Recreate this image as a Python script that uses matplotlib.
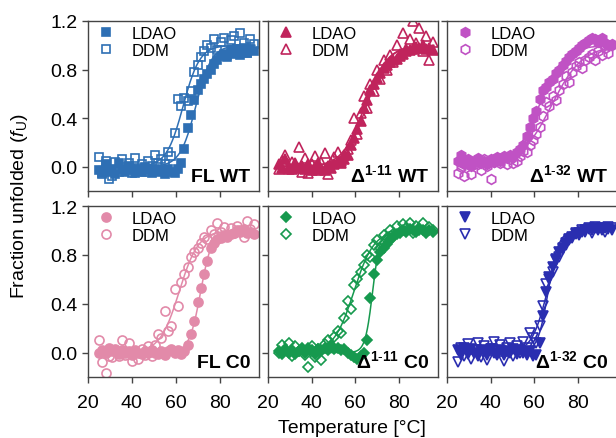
import numpy as np
import matplotlib
matplotlib.use("Agg")
import matplotlib.pyplot as plt

plt.rcParams['font.family'] = ['Liberation Sans', 'DejaVu Sans']
plt.rcParams['mathtext.fontset'] = 'custom'
plt.rcParams['mathtext.rm'] = 'Liberation Sans'
plt.rcParams['mathtext.it'] = 'Liberation Sans:italic'
plt.rcParams['mathtext.bf'] = 'Liberation Sans:bold'

# temperatures of the scan (°C)
temps = [25, 26.5, 28, 29.5, 31, 32.5, 34, 35.5, 37, 38.5, 40, 41.5, 43, 44.5, 46, 47.5,
         49, 50.5, 52, 53.5, 55, 56.5, 58, 59.5, 61, 62.5, 64, 65.5, 67, 68.5, 70, 71.5,
         73, 74.5, 76, 77.5, 79, 80.5, 82, 83.5, 85, 86.5, 88, 89.5, 91, 92.5, 94, 95.5]

# fraction unfolded, LDAO / DDM for each construct
fl_wt_ldao = [-0.03, -0.05, 0.02, -0.04, -0.02, -0.06, 0.03, -0.03,
              -0.04, 0.01, -0.03, -0.05, -0.02, -0.04, 0.00, -0.03,
              -0.05, -0.02, -0.04, -0.03, -0.06, -0.02, -0.04, -0.05,
              -0.02, 0.03, 0.15, 0.32, 0.43, 0.55, 0.63, 0.68,
              0.72, 0.76, 0.80, 0.85, 0.88, 0.91, 0.93, 0.90,
              0.96, 0.93, 0.97, 0.92, 0.98, 0.94, 0.97, 0.95]
fl_wt_ddm = [0.08, -0.06, 0.05, -0.10, -0.08, 0.04, -0.04, 0.06,
             -0.02, 0.03, -0.05, 0.07, -0.01, 0.02, -0.04, 0.05,
             0.01, 0.10, 0.03, 0.06, 0.02, 0.12, 0.09, 0.28,
             0.56, 0.50, 0.57, 0.54, 0.62, 0.78, 0.84, 0.90,
             0.95, 1.00, 0.98, 1.05, 0.96, 1.03, 1.06, 0.92,
             1.04, 1.08, 0.97, 1.10, 1.02, 0.94, 1.05, 1.01]

d11_wt_ldao = [0.02, -0.01, 0.06, 0.00, -0.02, 0.03, -0.01, 0.01,
               -0.02, 0.02, -0.03, 0.00, 0.03, -0.02, -0.03, 0.01,
               -0.01, 0.02, 0.04, 0.03, 0.06, 0.10, 0.18, 0.24,
               0.31, 0.38, 0.48, 0.55, 0.63, 0.68, 0.73, 0.77,
               0.81, 0.84, 0.86, 0.88, 0.89, 0.91, 0.93, 0.95,
               0.96, 0.97, 0.99, 0.98, 1.00, 0.97, 0.98, 0.96]
d11_wt_ddm = [-0.02, 0.05, 0.10, -0.02, 0.04, 0.02, 0.16, -0.04,
              0.07, -0.05, 0.02, 0.09, -0.03, 0.04, 0.11, -0.06,
              0.03, 0.08, 0.12, 0.05, 0.10, 0.15, 0.22, 0.40,
              0.27, 0.44, 0.58, 0.48, 0.68, 0.62, 0.80, 0.72,
              0.88, 0.80, 0.92, 0.86, 1.00, 0.93, 1.10, 0.97,
              1.05, 1.20, 1.02, 1.14, 0.95, 1.08, 0.88, 1.03]

d32_wt_ldao = [0.05, 0.10, 0.02, 0.06, 0.01, 0.04, 0.07, 0.03,
               0.05, 0.02, 0.06, 0.04, 0.08, 0.05, 0.09, 0.07,
               0.10, 0.08, 0.12, 0.15, 0.18, 0.25, 0.33, 0.40,
               0.46, 0.56, 0.63, 0.66, 0.70, 0.72, 0.77, 0.80,
               0.84, 0.87, 0.90, 0.93, 0.95, 0.98, 1.00, 1.02,
               1.04, 1.06, 1.05, 1.03, 1.06, 1.02, 1.00, 1.01]
d32_wt_ddm = [-0.05, 0.00, -0.08, 0.04, -0.06, 0.05, 0.02, -0.03,
              0.06, 0.01, -0.10, 0.04, 0.07, 0.03, 0.08, 0.02,
              0.06, 0.03, 0.05, 0.09, 0.13, 0.12, 0.18, 0.22,
              0.27, 0.33, 0.42, 0.53, 0.50, 0.58, 0.55, 0.63,
              0.68, 0.75, 0.70, 0.78, 0.83, 0.86, 0.81, 0.88,
              0.90, 0.93, 0.88, 0.95, 0.92, 0.98, 0.94, 1.00]

fl_c0_ldao = [0.00, 0.02, 0.00, 0.04, 0.01, 0.03, -0.01, 0.02,
              0.00, 0.01, -0.02, 0.02, 0.00, -0.01, 0.01, 0.00,
              0.02, 0.00, -0.01, 0.01, -0.02, 0.01, 0.03, 0.00,
              0.02, -0.01, 0.01, 0.06, 0.15, 0.26, 0.41, 0.53,
              0.64, 0.75, 0.86, 0.90, 0.93, 0.94, 0.96, 0.95,
              0.97, 0.98, 1.00, 0.99, 1.01, 0.98, 0.99, 0.97]
fl_c0_ddm = [0.10, -0.08, -0.17, -0.03, -0.04, 0.02, -0.03, 0.10,
             -0.02, 0.08, -0.07, 0.01, -0.05, 0.03, -0.02, 0.05,
             -0.03, 0.06, 0.15, 0.12, 0.34, 0.18, 0.22, 0.52,
             0.38, 0.58, 0.64, 0.70, 0.78, 0.82, 0.86, 0.90,
             0.95, 0.93, 1.00, 0.97, 1.06, 0.99, 1.03, 0.96,
             1.02, 0.98, 1.04, 1.00, 0.95, 1.08, 1.01, 1.05]

d11_c0_ldao = [0.01, -0.01, 0.03, 0.00, 0.02, -0.01, 0.01, 0.03,
               0.00, 0.04, 0.02, -0.01, 0.03, 0.01, 0.04, 0.02,
               0.05, 0.03, 0.04, 0.02, 0.03, 0.00, -0.02, -0.04,
               -0.05, -0.03, 0.00, 0.10, 0.45, 0.64, 0.76, 0.82,
               0.86, 0.89, 0.92, 0.95, 0.97, 0.98, 1.00, 0.99,
               1.01, 1.00, 0.99, 1.02, 1.00, 0.98, 1.00, 0.99]
d11_c0_ddm = [0.00, 0.06, 0.02, 0.08, -0.03, 0.05, 0.01, 0.04,
              -0.02, -0.12, 0.05, -0.04, 0.03, -0.06, 0.07, 0.10,
              0.06, 0.13, 0.18, 0.16, 0.28, 0.42, 0.36, 0.55,
              0.60, 0.66, 0.72, 0.80, 0.78, 0.88, 0.92, 0.86,
              0.96, 0.92, 1.00, 0.97, 1.04, 0.99, 1.05, 1.02,
              1.06, 0.98, 1.04, 1.00, 1.06, 0.99, 1.03, 1.00]

d32_c0_ldao = [0.02, -0.02, 0.04, -0.01, 0.03, 0.00, -0.03, 0.02,
               0.01, -0.02, 0.03, 0.00, -0.01, 0.02, -0.02, 0.01,
               0.00, 0.03, -0.01, 0.02, 0.00, -0.02, 0.01, -0.03,
               -0.02, 0.08, 0.30, 0.50, 0.62, 0.70, 0.77, 0.82,
               0.86, 0.90, 0.93, 0.95, 0.97, 0.98, 0.99, 1.00,
               1.01, 1.00, 1.02, 1.01, 1.00, 1.02, 1.01, 1.00]
d32_c0_ddm = [-0.08, 0.04, -0.03, 0.07, -0.05, 0.02, 0.08, -0.04,
              0.05, -0.06, 0.03, 0.09, -0.02, 0.06, -0.07, 0.04,
              0.08, -0.03, 0.05, 0.00, 0.09, 0.04, 0.16, 0.12,
              0.08, 0.22, 0.38, 0.56, 0.60, 0.66, 0.76, 0.78,
              0.85, 0.88, 0.92, 0.94, 0.98, 0.96, 1.00, 0.99,
              1.02, 0.98, 1.03, 1.00, 1.02, 0.99, 1.03, 1.02]

panel_labels = ['FL WT', 'Δ$^{\\mathbf{1\\text{-}11}}$ WT', 'Δ$^{\\mathbf{1\\text{-}32}}$ WT',
                'FL C0', 'Δ$^{\\mathbf{1\\text{-}11}}$ C0', 'Δ$^{\\mathbf{1\\text{-}32}}$ C0']
ldao_sets = [fl_wt_ldao, d11_wt_ldao, d32_wt_ldao, fl_c0_ldao, d11_c0_ldao, d32_c0_ldao]
ddm_sets = [fl_wt_ddm, d11_wt_ddm, d32_wt_ddm, fl_c0_ddm, d11_c0_ddm, d32_c0_ddm]
colores = ['#2e6fb4', '#c0245c', '#c052c4', '#e28aa9', '#16994e', '#2a2eb0']
marcadores = ['s', '^', 'h', 'o', 'D', 'v']
tamanos = [6, 7, 7, 6.5, 5.5, 7]


def fit_sigmoid(t, f):
    # simple least squares grid search for a two-state fit
    t = np.asarray(t, dtype=float)
    f = np.asarray(f, dtype=float)
    tms = np.arange(45, 85, 0.2)
    ws = np.arange(0.5, 12, 0.1)
    TM, WW = np.meshgrid(tms, ws, indexing='ij')
    pred = 1 / (1 + np.exp(-(t[None, None, :] - TM[..., None]) / WW[..., None]))
    err = ((pred - f) ** 2).sum(-1)
    i, j = np.unravel_index(err.argmin(), err.shape)
    return tms[i], ws[j]


W, H = 616, 439
cols = [(88, 259), (268, 438), (447, 617)]
rows = [(22, 192), (207, 378)]

fig = plt.figure(figsize=(W / 100, H / 100), dpi=100)
tt = np.linspace(25, 96, 300)

for k in range(6):
    r, c = divmod(k, 3)
    x0, x1 = cols[c]
    y0, y1 = rows[r]
    ax = fig.add_axes([x0 / W, 1 - y1 / H, (x1 - x0) / W, (y1 - y0) / H])
    col = colores[k]

    for datos, lab, face in [(ldao_sets[k], 'LDAO', col), (ddm_sets[k], 'DDM', 'none')]:
        ax.plot(temps, datos, linestyle='none', marker=marcadores[k], ms=tamanos[k],
                mfc=face, mec=col, mew=1.2, label=lab)
        tm, w = fit_sigmoid(temps, datos)
        ax.plot(tt, 1 / (1 + np.exp(-(tt - tm) / w)), color=col, lw=1.1)

    ax.set_xlim(20, 98)
    ax.set_ylim(-0.2, 1.2)
    ax.set_xticks([20, 40, 60, 80])
    ax.set_yticks([0.0, 0.4, 0.8, 1.2])
    ax.set_yticklabels(['0.0', '0.4', '0.8', '1.2'])
    for s in ax.spines.values():
        s.set_color('#444444')
        s.set_linewidth(1.0)
    ax.tick_params(direction='out', length=4, width=1, color='#444444', labelsize=14)
    ax.tick_params(axis='x', pad=8)
    if r == 0:
        ax.tick_params(labelbottom=False)
    if c > 0:
        ax.tick_params(labelleft=False)

    hand = ax.get_lines()[0::2]
    ax.legend(hand, ['LDAO', 'DDM'], loc='upper left', frameon=False, fontsize=12,
              borderaxespad=0, borderpad=0.3, handlelength=1.5, handletextpad=0.8,
              labelspacing=0.12)
    ax.text(0.95, 0.035, panel_labels[k], transform=ax.transAxes, ha='right', va='bottom',
            fontsize=14, fontweight='bold')

fig.text(0.032, 0.53, 'Fraction unfolded ($\\mathit{f}_{\\mathrm{U}}$)', rotation=90,
         ha='center', va='center', fontsize=14)
fig.text(0.571, 0.025, 'Temperature [°C]', ha='center', va='center', fontsize=14)

fig.savefig('out.png', dpi=100)
